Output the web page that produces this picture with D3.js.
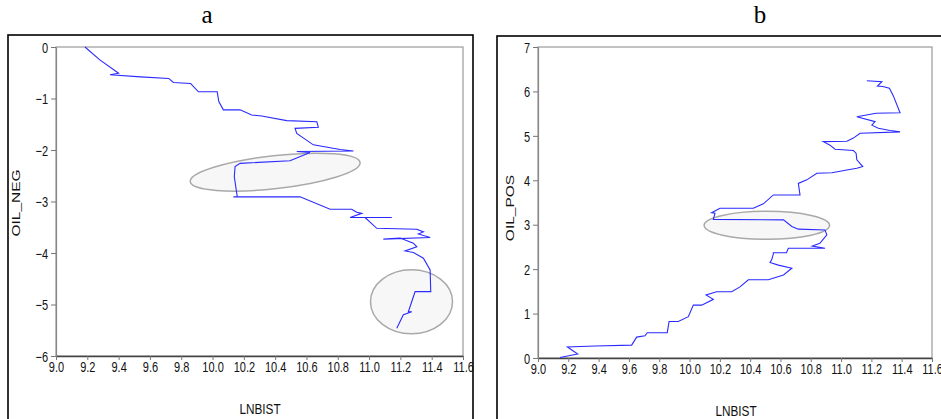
<!DOCTYPE html>
<html>
<head>
<meta charset="utf-8">
<script src="https://cdn.jsdelivr.net/npm/d3@7"></script>
<style>
  body { margin: 0; background: #fff; }
  text { font-family: "Liberation Sans", Arial, sans-serif; }
</style>
</head>
<body>
<div id="chart"></div>
<script>
// tick labels
var xTicks = [9.0, 9.2, 9.4, 9.6, 9.8, 10.0, 10.2, 10.4, 10.6, 10.8, 11.0, 11.2, 11.4, 11.6];
var negTicks = [0, -1, -2, -3, -4, -5, -6];
var posTicks = [0, 1, 2, 3, 4, 5, 6, 7];

// panel a : LNBIST vs OIL_NEG
var negX = [9.185, 9.28, 9.40, 9.345, 9.54, 9.72, 9.75, 9.86, 9.91, 10.03, 10.04, 10.069, 10.176, 10.25, 10.314,
    10.474, 10.666, 10.676, 10.527, 10.538, 10.644, 10.815, 10.90, 10.538, 10.623, 10.495, 10.176, 10.144, 10.139,
    10.158, 10.133, 10.559, 10.751, 10.889, 10.921, 10.953, 10.879, 11.145, 10.974, 11.049, 11.305, 11.347, 11.315,
    11.39, 11.091, 11.198, 11.283, 11.305, 11.23, 11.283, 11.347, 11.39, 11.394, 11.294, 11.283, 11.251, 11.273,
    11.219, 11.177];
var negY = [0, -0.25, -0.51, -0.54, -0.58, -0.61, -0.69, -0.71, -0.87, -0.87, -1.06, -1.22, -1.22, -1.32, -1.34,
    -1.43, -1.45, -1.56, -1.58, -1.68, -1.90, -1.99, -2.02, -2.03, -2.05, -2.21, -2.26, -2.32, -2.52,
    -2.91, -2.91, -2.91, -3.15, -3.15, -3.21, -3.23, -3.31, -3.31, -3.31, -3.52, -3.54, -3.59, -3.63,
    -3.70, -3.73, -3.71, -3.81, -3.88, -3.96, -3.99, -4.10, -4.33, -4.75, -4.75, -4.85, -5.14, -5.14,
    -5.20, -5.46];

// panel b : LNBIST vs OIL_POS
var posX = [9.145, 9.262, 9.194, 9.376, 9.618, 9.651, 9.706, 9.721, 9.853, 9.865, 9.926, 9.992, 10.025, 10.08,
    10.157, 10.109, 10.179, 10.278, 10.333, 10.388, 10.52, 10.62, 10.675, 10.586, 10.531, 10.542, 10.553, 10.553,
    10.64, 10.652, 10.894, 10.81, 10.86, 10.906, 10.894, 10.718, 10.675, 10.62, 10.157, 10.168, 10.146, 10.201,
    10.421, 10.487, 10.553, 10.729, 10.718, 10.774, 10.840, 10.939, 11.038, 11.104, 11.143, 11.104, 11.099,
    11.081, 10.960, 10.927, 10.883, 11.038, 11.081, 11.125, 11.389, 11.323, 11.246, 11.203, 11.224, 11.104,
    11.231, 11.389, 11.345, 11.319, 11.275, 11.240, 11.269, 11.170];
var posY = [0.01, 0.09, 0.25, 0.27, 0.29, 0.47, 0.50, 0.57, 0.57, 0.82, 0.82, 0.93, 1.19, 1.19,
    1.32, 1.42, 1.49, 1.49, 1.60, 1.76, 1.76, 1.87, 2.02, 2.09, 2.15, 2.21, 2.34, 2.37,
    2.37, 2.47, 2.47, 2.52, 2.58, 2.77, 2.88, 2.90, 2.96, 3.11, 3.12, 3.26, 3.27, 3.37,
    3.37, 3.47, 3.67, 3.67, 3.93, 4.01, 4.16, 4.17, 4.23, 4.27, 4.31, 4.46, 4.61,
    4.67, 4.70, 4.79, 4.87, 4.88, 4.95, 5.06, 5.09, 5.12, 5.17, 5.24, 5.32, 5.43,
    5.51, 5.52, 5.90, 6.07, 6.11, 6.12, 6.22, 6.24];

// highlighted regions (data units, angle in degrees)
var negRegions = [
    { cx: 10.40, cy: -2.43, rx: 0.546, ry: 0.32, angle: -6.4 },
    { cx: 11.271, cy: -4.946, rx: 0.262, ry: 0.621, angle: 0 }
];
var posRegions = [
    { cx: 10.51, cy: 2.987, rx: 0.414, ry: 0.315, angle: 0 }
];

var width = 941, height = 419;
var sx = 0.76; // narrow text look

var svg = d3.select("#chart")
    .append("svg")
    .attr("width", width)
    .attr("height", height);

function drawPanel(p) {
    // outer frame
    svg.append("rect")
        .attr("x", p.box[0]).attr("y", p.box[1])
        .attr("width", p.box[2]).attr("height", p.box[3])
        .attr("fill", "none")
        .attr("stroke", "#000")
        .attr("stroke-width", 1.6);

    svg.append("text")
        .attr("x", p.titleX).attr("y", 23)
        .attr("text-anchor", "middle")
        .style("font-family", "'Liberation Serif', 'Times New Roman', serif")
        .style("font-size", "25px")
        .attr("fill", "#000")
        .text(p.title);

    var x = d3.scaleLinear().domain([9.0, 11.6]).range([p.left, p.right]);
    var y = d3.scaleLinear().domain(p.yDomain).range([p.bottom, p.top]);

    // plot frame
    svg.append("rect")
        .attr("x", p.left).attr("y", p.top)
        .attr("width", p.right - p.left).attr("height", p.bottom - p.top)
        .attr("fill", "none")
        .attr("stroke", "#9a9a9a")
        .attr("stroke-width", 1.2);

    var xAxis = svg.append("g")
        .attr("transform", "translate(0," + p.bottom + ")")
        .call(d3.axisBottom(x).tickValues(xTicks).tickFormat(d3.format(".1f")).tickSize(4).tickSizeOuter(0));
    xAxis.select(".domain").attr("stroke", "#444").attr("stroke-width", 1.3);
    xAxis.selectAll(".tick line").attr("stroke", "#777");
    xAxis.selectAll(".tick text")
        .attr("y", 16).attr("dy", 0)
        .attr("transform", "scale(" + sx + ",1)")
        .attr("fill", "#111")
        .style("font-size", "14.5px");

    var yAxis = svg.append("g")
        .attr("transform", "translate(" + p.left + ",0)")
        .call(d3.axisLeft(y).tickValues(p.yTicks).tickFormat(d3.format("d")).tickSize(5).tickSizeOuter(0));
    yAxis.select(".domain").attr("stroke", "#888").attr("stroke-width", 1.2);
    yAxis.selectAll(".tick line").attr("stroke", "#777");
    yAxis.selectAll(".tick text")
        .attr("x", -8 / sx).attr("dy", "0.36em")
        .attr("transform", "scale(" + sx + ",1)")
        .attr("fill", "#111")
        .style("font-size", "14.5px");

    // axis titles
    svg.append("text")
        .attr("transform", "translate(" + p.xLabelX + "," + p.xLabelY + ") scale(" + sx + ",1)")
        .attr("text-anchor", "middle")
        .style("font-size", "15.5px")
        .attr("fill", "#111")
        .text("LNBIST");

    svg.append("text")
        .attr("transform", "translate(" + p.yLabelX + "," + p.yLabelY + ") scale(" + sx + ",1) rotate(-90)")
        .attr("text-anchor", "middle")
        .style("font-size", "15.5px")
        .attr("fill", "#111")
        .text(p.yLabel);

    // highlighted regions
    p.regions.forEach(function (r) {
        var rxPx = Math.abs(x(r.cx + r.rx) - x(r.cx));
        var ryPx = Math.abs(y(r.cy + r.ry) - y(r.cy));
        svg.append("ellipse")
            .attr("transform", "translate(" + x(r.cx) + "," + y(r.cy) + ") rotate(" + r.angle + ")")
            .attr("rx", rxPx).attr("ry", ryPx)
            .attr("fill", "#f6f6f6")
            .attr("fill-opacity", 0.9)
            .attr("stroke", "#a9a9a9")
            .attr("stroke-width", 1.5);
    });

    var pts = p.xs.map(function (d, i) { return [d, p.ys[i]]; });
    var line = d3.line()
        .x(function (d) { return x(d[0]); })
        .y(function (d) { return y(d[1]); });

    svg.append("path")
        .attr("fill", "none")
        .attr("stroke", "#2a2aff")
        .attr("stroke-width", 1.1)
        .attr("d", line(pts));
}

drawPanel({
    box: [8, 35, 465, 400], title: "a", titleX: 207,
    left: 56, right: 463, top: 47, bottom: 356,
    yDomain: [-6, 0], yTicks: negTicks, yLabel: "OIL_NEG",
    xLabelX: 260, xLabelY: 414, yLabelX: 20, yLabelY: 203,
    xs: negX, ys: negY, regions: negRegions
});

drawPanel({
    box: [497, 36, 470, 400], title: "b", titleX: 760,
    left: 538, right: 932, top: 47, bottom: 358,
    yDomain: [0, 7], yTicks: posTicks, yLabel: "OIL_POS",
    xLabelX: 736, xLabelY: 416, yLabelX: 514, yLabelY: 208,
    xs: posX, ys: posY, regions: posRegions
});
</script>
</body>
</html>
